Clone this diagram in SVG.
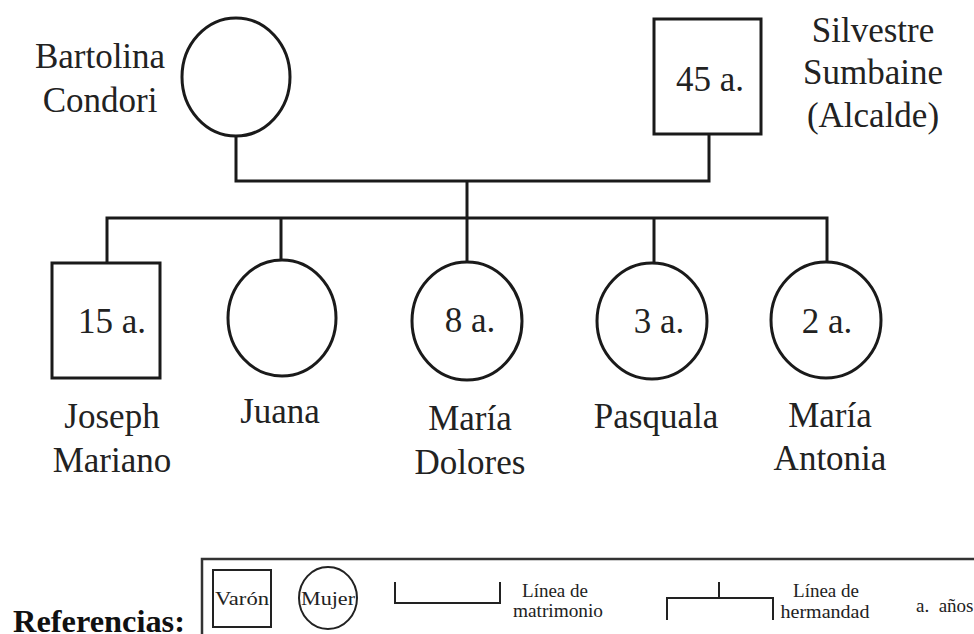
<svg xmlns="http://www.w3.org/2000/svg" width="974" height="634" viewBox="0 0 974 634">
<style>
.shape{fill:#fff;stroke:#1a1a1a;stroke-width:3}
.ln{fill:none;stroke:#1a1a1a;stroke-width:3}
.lbl{font-family:"Liberation Serif","Times New Roman",serif;font-size:35px;fill:#222;text-anchor:middle}
.leg{font-family:"Liberation Serif","Times New Roman",serif;font-size:19px;fill:#222;text-anchor:middle}
.lgs{fill:#fff;stroke:#222;stroke-width:2}
.lgl{fill:none;stroke:#222;stroke-width:2}
</style>
<rect width="974" height="634" fill="#fff"/>
<g id="connectors">
<path class="ln" d="M236,136 V181 H709 V134"/>
<path class="ln" d="M467,181 V218"/>
<path class="ln" d="M107,263 V218 H827 V261"/>
<path class="ln" d="M281,218 V260"/>
<path class="ln" d="M467,218 V262"/>
<path class="ln" d="M654,218 V263"/>
</g>
<g id="bartolina">
<ellipse class="shape" cx="236" cy="77" rx="54" ry="59"/>
<text class="lbl" x="100" y="68">Bartolina</text>
<text class="lbl" x="100" y="112">Condori</text>
</g>
<g id="silvestre">
<rect class="shape" x="654" y="19" width="107" height="115"/>
<text class="lbl" x="710" y="91">45 a.</text>
<text class="lbl" x="873" y="42">Silvestre</text>
<text class="lbl" x="873" y="84">Sumbaine</text>
<text class="lbl" x="873" y="127">(Alcalde)</text>
</g>
<g id="joseph">
<rect class="shape" x="52" y="263" width="108" height="115"/>
<text class="lbl" x="112" y="333">15 a.</text>
<text class="lbl" x="112" y="428">Joseph</text>
<text class="lbl" x="112" y="472">Mariano</text>
</g>
<g id="juana">
<ellipse class="shape" cx="282" cy="318" rx="54" ry="58"/>
<text class="lbl" x="280" y="423">Juana</text>
</g>
<g id="maria-dolores">
<ellipse class="shape" cx="467" cy="321" rx="55" ry="59"/>
<text class="lbl" x="470" y="332">8 a.</text>
<text class="lbl" x="470" y="430">María</text>
<text class="lbl" x="470" y="474">Dolores</text>
</g>
<g id="pasquala">
<ellipse class="shape" cx="652" cy="321" rx="55" ry="58"/>
<text class="lbl" x="659" y="333">3 a.</text>
<text class="lbl" x="656" y="428">Pasquala</text>
</g>
<g id="maria-antonia">
<ellipse class="shape" cx="826" cy="320" rx="55" ry="58"/>
<text class="lbl" x="827" y="333">2 a.</text>
<text class="lbl" x="830" y="427">María</text>
<text class="lbl" x="830" y="470">Antonia</text>
</g>
<g id="legend">
<text x="13" y="632" style="font-family:'Liberation Serif',serif;font-weight:bold;font-size:31px;fill:#111" textLength="172" lengthAdjust="spacingAndGlyphs">Referencias:</text>
<path d="M202,640 V559 H980" fill="#fff" stroke="#333" stroke-width="2.5"/>
<rect class="lgs" x="213" y="570" width="58" height="57"/>
<text class="leg" x="242" y="605" textLength="54" lengthAdjust="spacingAndGlyphs">Varón</text>
<ellipse class="lgs" cx="328" cy="598" rx="29" ry="31"/>
<text class="leg" x="328" y="605" textLength="54" lengthAdjust="spacingAndGlyphs">Mujer</text>
<path class="lgl" d="M395,582 V603 H500 V582"/>
<text class="leg" x="555" y="597">Línea de</text>
<text class="leg" x="558" y="617" textLength="90" lengthAdjust="spacingAndGlyphs">matrimonio</text>
<path class="lgl" d="M667,620 V598 H773 V620 M719,582 V598"/>
<text class="leg" x="826" y="597">Línea de</text>
<text class="leg" x="825" y="618" textLength="89" lengthAdjust="spacingAndGlyphs">hermandad</text>
<text class="leg" x="916" y="612" style="text-anchor:start" xml:space="preserve">a.  años</text>
</g>
</svg>
